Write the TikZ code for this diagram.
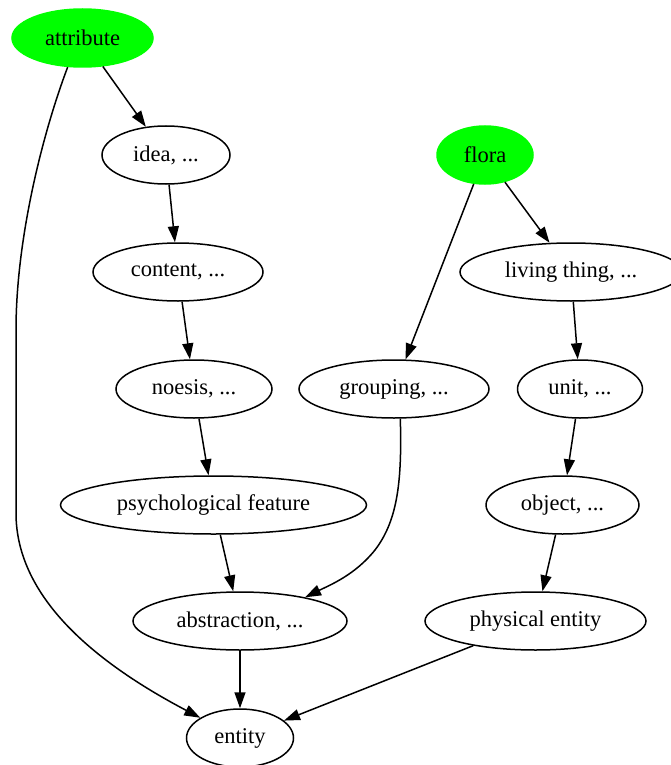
\documentclass[tikz,border=0pt]{standalone}
\usepackage{fontspec}
\setmainfont{Liberation Serif}
\usetikzlibrary{shapes.geometric,arrows.meta}
\begin{document}
\begin{tikzpicture}[x=1pt,y=-1pt,
 gv/.style={ellipse,draw=black,line width=1.5pt,minimum height=58pt,inner sep=0pt,
   font=\fontsize{22.5}{27}\selectfont},
 seed/.style={gv,fill=green,draw=green},
 link/.style={-{Triangle[length=16pt,width=11pt]},line width=1.5pt,draw=black}]
\useasboundingbox (0,0) rectangle (670,765);
\node[seed,minimum width=141pt] (attribute) at (82.5,38) {attribute};
\node[gv,minimum width=128pt] (idea) at (166,155) {idea, ...};
\node[seed,minimum width=96pt] (flora) at (485,155) {flora};
\node[gv,minimum width=170pt] (content) at (178,272) {content, ...};
\node[gv,minimum width=222pt] (living) at (571,272) {living thing, ...};
\node[gv,minimum width=156pt] (noesis) at (194,389) {noesis, ...};
\node[gv,minimum width=190pt] (grouping) at (394,389) {grouping, ...};
\node[gv,minimum width=125pt] (unit) at (580,389) {unit, ...};
\node[gv,minimum width=306pt] (psych) at (213.5,505) {psychological feature};
\node[gv,minimum width=153pt] (object) at (562.5,505) {object, ...};
\node[gv,minimum width=214pt] (abstraction) at (240,621) {abstraction, ...};
\node[gv,minimum width=221pt] (physical) at (535.5,621) {physical entity};
\node[gv,minimum width=107pt] (entity) at (240,738) {entity};

\draw[link] (attribute) -- (idea);
\draw[link] (attribute.243) .. controls (42,135) and (16,240) .. (16,330) -- (16,513)
  .. controls (16,600) and (100,665) .. (entity.153);
\draw[link] (idea) -- (content);
\draw[link] (content) -- (noesis);
\draw[link] (noesis) -- (psych);
\draw[link] (psych) -- (abstraction);
\draw[link] (abstraction) -- (entity);
\draw[link] (flora) -- (grouping);
\draw[link] (flora) -- (living);
\draw[link] (living) -- (unit);
\draw[link] (unit) -- (object);
\draw[link] (object) -- (physical);
\draw[link] (physical) -- (entity);
\draw[link] (grouping.282) .. controls (402,480) and (398,520) .. (375,550)
  .. controls (355,575) and (330,585) .. (abstraction.20);
\end{tikzpicture}
\end{document}
